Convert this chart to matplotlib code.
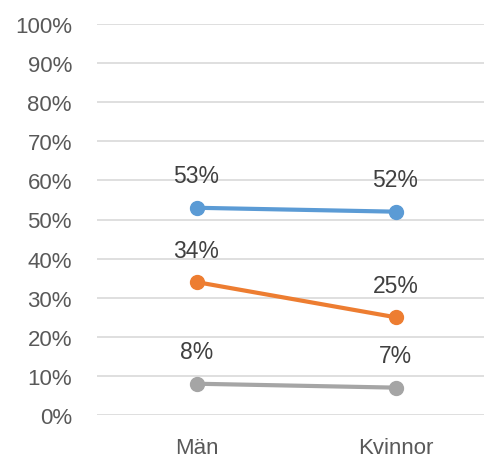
import matplotlib
matplotlib.use("Agg")
import matplotlib.pyplot as plt
from matplotlib.ticker import PercentFormatter

# ─── data ─────────────────────────────────────────────────────────────────────
categories = ["Män", "Kvinnor"]
serie_1 = [0.53, 0.52]
serie_2 = [0.34, 0.25]
serie_3 = [0.08, 0.07]
colors = ["#5B9BD5", "#ED7D31", "#A5A5A5"]
# ──────────────────────────────────────────────────────────────────────────────

plt.rcParams["font.family"] = ["Liberation Sans", "DejaVu Sans"]

W, H = 484, 460
fig = plt.figure(figsize=(W / 100, H / 100), dpi=100)
ax = fig.add_axes([97 / W, (H - 416) / H, 398 / W, 391 / H])

x = list(range(len(categories)))
for vals, c in zip([serie_1, serie_2, serie_3], colors):
    ax.plot(x, vals, color=c, lw=3, marker="o", ms=10, solid_capstyle="round",
            zorder=3)
    for xi, v in zip(x, vals):
        ax.annotate(f"{v:.0%}", (xi, v), xytext=(0, 23), textcoords="offset points",
                    ha="center", va="center", fontsize=16.5, color="#404040")

ax.set_xlim(-0.5, 1.5)
ax.set_ylim(0, 1)
ax.set_yticks([i / 10 for i in range(11)])
ax.yaxis.set_major_formatter(PercentFormatter(1.0, decimals=0))
ax.set_xticks(x)
ax.set_xticklabels(categories)
ax.tick_params(axis="both", length=0, labelsize=16, labelcolor="#595959")
ax.tick_params(axis="y", pad=18)
ax.tick_params(axis="x", pad=16)
ax.grid(axis="y", color="#D9D9D9", lw=1.2)
ax.set_axisbelow(True)
for s in ax.spines.values():
    s.set_visible(False)

fig.savefig("out.png", dpi=100)
